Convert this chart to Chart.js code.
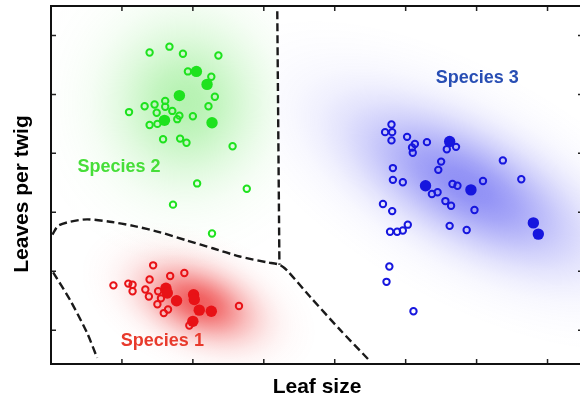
<!DOCTYPE html>
<html><head><meta charset="utf-8">
<style>
html,body{margin:0;padding:0;background:#fff;overflow:hidden;width:580px;height:400px}
#wrap{width:590px;height:400px}
</style>
<script src="https://cdn.jsdelivr.net/npm/chart.js@4/dist/chart.umd.min.js"></script>
</head><body>
<div id="wrap"><canvas id="c" width="590" height="400"></canvas></div>
<script>
// ---------- data ----------
const xTitle = 'Leaf size';
const yTitle = 'Leaves per twig';
const speciesNames = ['Species 1', 'Species 2', 'Species 3'];
const xTickValues = [1, 2, 3, 4, 5, 6, 7];
const yTickValues = [0, 1, 2, 3, 4, 5];

const species1Open = [[1.44,1.10],[1.68,0.92],[1.88,0.97],[1.39,0.86],[0.88,0.76],[1.09,0.79],[1.15,0.77],[1.15,0.66],[1.33,0.69],[1.38,0.57],[1.51,0.66],[1.55,0.54],[1.50,0.44],[1.59,0.29],[1.65,0.35],[2.65,0.41],[1.95,0.08]];
const species1Filled = [[1.62,0.71],[1.64,0.63],[1.77,0.50],[2.01,0.60],[2.02,0.52],[2.09,0.34],[2.26,0.32],[2.00,0.15]];

const species2Open = [[1.39,4.71],[1.67,4.81],[1.86,4.69],[2.36,4.66],[1.93,4.39],[2.26,4.30],[2.31,3.96],[2.22,3.80],[2.00,3.63],[1.10,3.70],[1.32,3.80],[1.46,3.83],[1.61,3.89],[1.61,3.79],[1.49,3.69],[1.71,3.72],[1.81,3.64],[1.78,3.58],[1.39,3.48],[1.50,3.50],[1.58,3.24],[1.82,3.25],[1.91,3.18],[2.56,3.12],[2.06,2.49],[2.76,2.40],[1.72,2.13],[2.27,1.64]];
const species2Filled = [[2.05,4.39],[2.20,4.17],[1.81,3.98],[1.60,3.56],[2.27,3.52]];

const species3Open = [[4.80,3.49],[4.71,3.36],[4.81,3.36],[4.80,3.22],[5.02,3.28],[5.13,3.16],[5.09,3.10],[5.10,3.01],[5.30,3.19],[5.58,3.07],[5.71,3.11],[5.50,2.86],[5.46,2.72],[4.82,2.75],[4.82,2.55],[4.96,2.51],[5.66,2.48],[5.73,2.45],[5.37,2.31],[5.45,2.34],[5.56,2.19],[5.64,2.11],[6.09,2.53],[6.37,2.88],[6.63,2.56],[5.97,2.04],[4.68,2.14],[4.81,2.02],[4.78,1.67],[4.88,1.67],[4.96,1.69],[5.03,1.79],[5.62,1.77],[5.86,1.70],[4.77,1.08],[4.73,0.82],[5.11,0.32]];
const species3Filled = [[5.62,3.20],[5.28,2.45],[5.92,2.38],[6.80,1.82],[6.87,1.63]];

const boundaryVertical = [[3.19,5.41],[3.22,1.11]];
const boundaryCurve = [[0.02,1.62],[0.10,1.77],[0.27,1.84],[0.51,1.88],[0.83,1.84],[1.16,1.77],[1.54,1.66],[1.92,1.52],[2.28,1.39],[2.66,1.25],[3.05,1.15],[3.22,1.11],[3.33,1.01],[3.65,0.57],[4.08,0.00],[4.47,-0.49]];
const boundaryLeft = [[0.03,0.98],[0.27,0.51],[0.51,-0.05],[0.65,-0.47]];

// ---------- styles ----------
const FONT = "'Liberation Sans', Arial, Helvetica, sans-serif";
const speciesColors = ['rgb(232,18,22)', 'rgb(30,226,30)', 'rgb(22,22,222)'];
const labelStyle = [
  {x: 1.57, y: -0.27, color: 'rgb(232,58,44)'},
  {x: 0.96, y: 2.69, color: 'rgb(70,222,56)'},
  {x: 6.01, y: 4.19, color: 'rgb(40,78,180)'}
];
// side: -1 = keep left of the vertical boundary, 1 = keep right, 0 = no cut
const glowStyle = [
  {x: 2.08, y: 0.47, rx: 125, ry: 72, angle: 22, color: [235,30,30], alpha: 0.72, side: 0},
  {x: 1.90, y: 3.85, rx: 160, ry: 170, angle: 0, color: [80,225,70], alpha: 0.42, side: -1},
  {x: 5.85, y: 2.45, rx: 275, ry: 118, angle: 29, color: [75,75,240], alpha: 0.62, side: 1}
];

const toXY = a => a.map(p => ({x: p[0], y: p[1]}));

function openSet(d, c) {
  return {type: 'scatter', data: toXY(d), pointStyle: 'circle', pointRadius: 3.2, pointBorderWidth: 2,
    borderColor: c, pointBorderColor: c, backgroundColor: 'rgba(0,0,0,0)', pointBackgroundColor: 'rgba(0,0,0,0)'};
}
function filledSet(d, c) {
  return {type: 'scatter', data: toXY(d), pointStyle: 'circle', pointRadius: 5.7, pointBorderWidth: 0,
    borderColor: c, backgroundColor: c, pointBackgroundColor: c};
}
function dashSet(d) {
  return {type: 'line', data: toXY(d), showLine: true, pointRadius: 0, borderColor: '#1a1a1a', borderWidth: 2.4,
    borderDash: [8, 4], tension: 0.25, fill: false};
}

const decor = {
  id: 'decor',
  beforeDatasetsDraw(chart) {
    const {ctx, chartArea: a, scales: {x, y}} = chart;
    const cut = x.getPixelForValue(boundaryVertical[0][0]) + 1;
    glowStyle.forEach(g => {
      ctx.save();
      let l = a.left, r = a.right;
      if (g.side < 0) r = cut;
      if (g.side > 0) l = cut;
      ctx.beginPath(); ctx.rect(l, a.top, r - l, a.bottom - a.top); ctx.clip();
      const cx = x.getPixelForValue(g.x), cy = y.getPixelForValue(g.y);
      ctx.translate(cx, cy);
      ctx.rotate(g.angle * Math.PI / 180);
      ctx.scale(g.rx, g.ry);
      const gr = ctx.createRadialGradient(0, 0, 0, 0, 0, 1);
      const [cr, cg, cb] = g.color;
      for (let i = 0; i <= 10; i++) {
        const t = i / 10;
        const f = i === 10 ? 0 : Math.exp(-t * t / 0.18);
        gr.addColorStop(t, `rgba(${cr},${cg},${cb},${(g.alpha * f).toFixed(4)})`);
      }
      ctx.fillStyle = gr;
      ctx.fillRect(-1, -1, 2, 2);
      ctx.restore();
    });
  },
  afterDatasetsDraw(chart) {
    const {ctx, chartArea: a, scales: {x, y}} = chart;
    ctx.save();
    ctx.strokeStyle = '#222'; ctx.lineWidth = 1.5;
    ctx.beginPath();
    xTickValues.forEach(v => {
      const px = x.getPixelForValue(v);
      ctx.moveTo(px, a.top); ctx.lineTo(px, a.top + 5);
      ctx.moveTo(px, a.bottom); ctx.lineTo(px, a.bottom - 5);
    });
    yTickValues.forEach(v => {
      const py = y.getPixelForValue(v);
      ctx.moveTo(a.left, py); ctx.lineTo(a.left + 5, py);
      ctx.moveTo(a.right, py); ctx.lineTo(a.right - 5, py);
    });
    ctx.stroke();
    ctx.strokeStyle = '#111'; ctx.lineWidth = 2;
    ctx.strokeRect(a.left, a.top, a.right - a.left, a.bottom - a.top);
    ctx.font = `bold 18px ${FONT}`;
    ctx.textAlign = 'center'; ctx.textBaseline = 'alphabetic';
    speciesNames.forEach((n, i) => {
      const l = labelStyle[i];
      ctx.fillStyle = l.color;
      ctx.fillText(n, x.getPixelForValue(l.x), y.getPixelForValue(l.y));
    });
    ctx.font = `bold 21px ${FONT}`;
    ctx.fillStyle = '#000';
    ctx.textBaseline = 'middle';
    ctx.translate(22, 194);
    ctx.rotate(-Math.PI / 2);
    ctx.fillText(yTitle, 0, 0);
    ctx.restore();
  }
};

new Chart(document.getElementById('c'), {
  type: 'scatter',
  data: {
    datasets: [
      dashSet(boundaryVertical), dashSet(boundaryCurve), dashSet(boundaryLeft),
      openSet(species1Open, speciesColors[0]), filledSet(species1Filled, speciesColors[0]),
      openSet(species2Open, speciesColors[1]), filledSet(species2Filled, speciesColors[1]),
      openSet(species3Open, speciesColors[2]), filledSet(species3Filled, speciesColors[2])
    ]
  },
  options: {
    responsive: false,
    animation: false,
    events: [],
    layout: {padding: {left: 0, top: 4.5, right: 7, bottom: 0}},
    plugins: {legend: {display: false}, tooltip: {enabled: false}},
    scales: {
      x: {
        type: 'linear', min: 0, max: 7.5,
        ticks: {display: false}, grid: {display: false}, border: {display: false},
        title: {display: true, text: xTitle, color: '#000', font: {family: FONT, size: 21, weight: 'bold'}, padding: {top: 0, bottom: 0}},
        afterFit: s => { s.height = 36; }
      },
      y: {
        type: 'linear', min: -0.574, max: 5.5,
        ticks: {display: false}, grid: {display: false}, border: {display: false},
        title: {display: false},
        afterFit: s => { s.width = 51; }
      }
    }
  },
  plugins: [decor]
});
</script>
</body></html>
